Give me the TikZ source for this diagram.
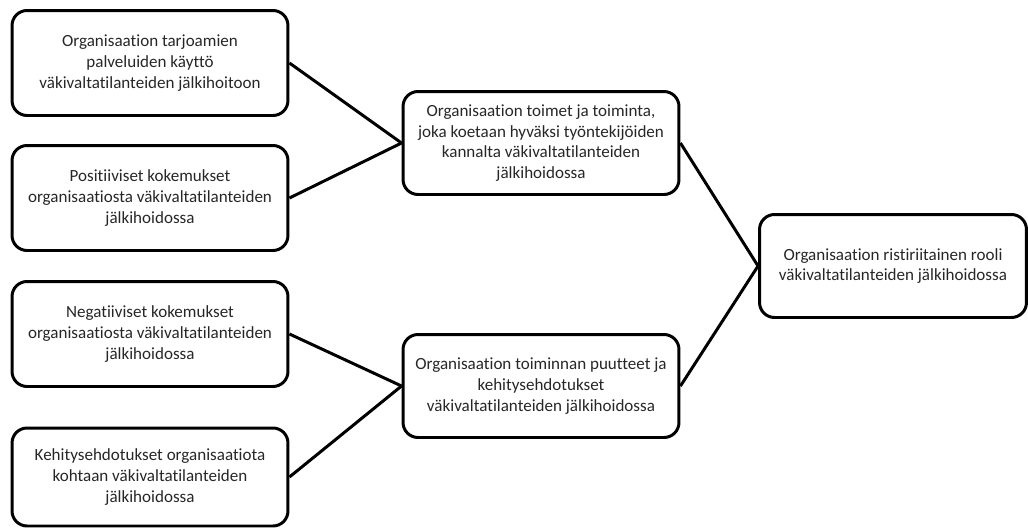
\documentclass[tikz,border=0pt]{standalone}
\usepackage{fontspec}
\setmainfont{Carlito}[Ligatures={NoCommon}]
\usetikzlibrary{positioning}
\begin{document}
\begin{tikzpicture}[x=0.02cm,y=-0.02cm,
    box/.style={draw, line width=1.7pt, rounded corners=0.3cm, align=center,
      minimum width=5.52cm, minimum height=2.1cm, inner sep=2pt,
      font=\fontsize{9.7}{11.8}\selectfont, text=black!85},
    link/.style={line width=1.7pt}]
            \useasboundingbox (0,0) rectangle (1028,528);
            % Vasen sarake
            \node [box] (use) at (150,63) {Organisaation tarjoamien\\palveluiden käyttö\\väkivaltatilanteiden jälkihoitoon};
            \node [box] (pos) at (150,198) {Positiiviset kokemukset\\organisaatiosta väkivaltatilanteiden\\jälkihoidossa};
            \node [box] (neg) at (150,334) {Negatiiviset kokemukset\\organisaatiosta väkivaltatilanteiden\\jälkihoidossa};
            \node [box, minimum height=1.96cm] (dev) at (150,477) {Kehitysehdotukset organisaatiota\\kohtaan väkivaltatilanteiden\\jälkihoidossa};

            % Keskimmäinen sarake
            \node [box, minimum height=2.06cm] (good) at (541,143) {Organisaation toimet ja toiminta,\\joka koetaan hyväksi työntekijöiden\\kannalta väkivaltatilanteiden\\jälkihoidossa};
            \node [box, minimum height=2.06cm] (lack) at (541,386) {Organisaation toiminnan puutteet ja\\kehitysehdotukset\\väkivaltatilanteiden jälkihoidossa};

            % Oikea sarake
            \node [box, minimum width=5.34cm, minimum height=2.06cm] (role) at (893,266) {Organisaation ristiriitainen rooli\\väkivaltatilanteiden jälkihoidossa};

            % Yhteydet
            \draw [link] (use.east) -- (good.west);
            \draw [link] (pos.east) -- (good.west);
            \draw [link] (neg.east) -- (lack.west);
            \draw [link] (dev.east) -- (lack.west);
            \draw [link] (good.east) -- (role.west);
            \draw [link] (lack.east) -- (role.west);
\end{tikzpicture}
\end{document}
